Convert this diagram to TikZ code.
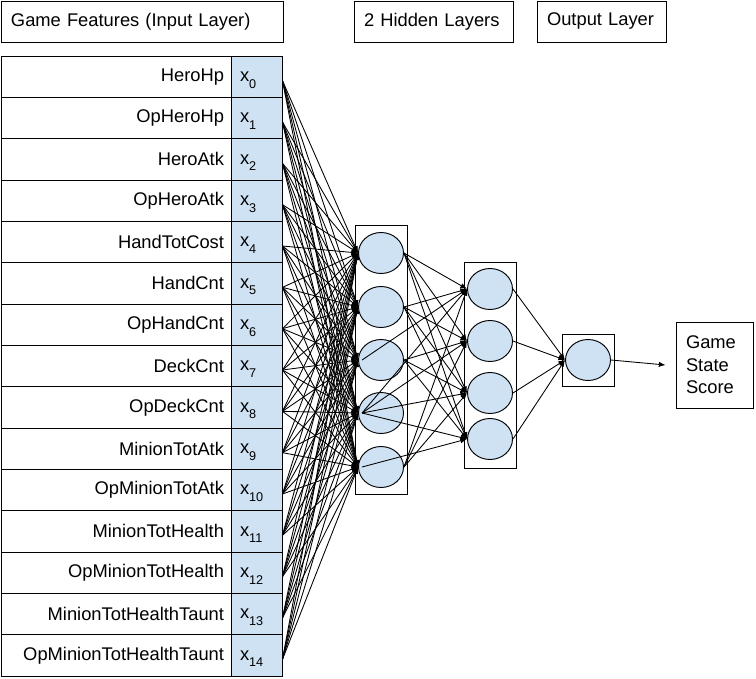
\documentclass[tikz,border=0pt]{standalone}
\usepackage{fontspec}
\setmainfont{Liberation Sans}
\usepackage{tikz}
\usetikzlibrary{shapes.geometric, arrows.meta}
\definecolor{celda}{RGB}{207, 226, 243}
\newcommand{\xsub}[1]{x\smash{\raisebox{-5pt}{\fontsize{9.5pt}{9.5pt}\selectfont #1}}}
\tikzset{
    hdr/.style={draw, rectangle, line width=0.7pt, minimum height=30.75pt, inner xsep=7.5pt, align=left},
    feat/.style={draw, rectangle, line width=0.7pt, minimum height=31pt, inner xsep=5.25pt, text width=162pt, align=right},
    xin/.style={draw, rectangle, line width=0.7pt, fill=celda, minimum height=31pt, inner xsep=6.75pt, text width=24.75pt, align=left},
    neur/.style={draw, ellipse, line width=0.7pt, fill=celda, minimum width=33.75pt, minimum height=30.75pt, inner sep=0pt},
    lay/.style={draw, rectangle, line width=0.7pt, minimum width=39pt, inner sep=0pt},
    conn/.style={-{Latex[length=5pt, width=4pt]}, line width=0.65pt},
}

\begin{document}
\begin{tikzpicture}[x=0.75pt, y=-0.75pt,
        every node/.style={font=\fontsize{13.75pt}{16.9pt}\selectfont}]
    \useasboundingbox (0,0) rectangle (756,678);

    % headers
    \node[hdr, text width=196.5pt] (hIn) at (142, 21.5) {Game Features (Input Layer)};
    \node[hdr, text width=104.25pt] (hHid) at (433.5, 21.5) {2 Hidden Layers};
    \node[hdr, text width=81.75pt] (hOut) at (601.5, 21.5) {Output Layer};

    % input table
    \foreach \nm [count=\i from 0] in {HeroHp, OpHeroHp, HeroAtk, OpHeroAtk, HandTotCost, HandCnt, OpHandCnt, DeckCnt, OpDeckCnt, MinionTotAtk, OpMinionTotAtk, MinionTotHealth, OpMinionTotHealth, MinionTotHealthTaunt, OpMinionTotHealthTaunt} {
        \node[feat] (f\i) at (116, {76.67+41.333*\i}) {\nm};
        \node[xin] (x\i) at (256.5, {76.67+41.333*\i}) {\xsub{\i}};
    }

    % layer boxes
    \node[lay, minimum height=201.75pt] (L1) at (381, 359.5) {};
    \node[lay, minimum height=154.5pt] (L2) at (490, 365) {};
    \node[lay, minimum height=39pt] (L3) at (588, 360) {};

    % neurons
    \foreach \yy [count=\j] in {253, 307, 360, 413, 467}
        \node[neur] (h\j) at (381, \yy) {};
    \foreach \yy [count=\k] in {289, 341, 393, 439}
        \node[neur] (g\k) at (490, \yy) {};
    \node[neur] (o) at (588, 360) {};

    \node[draw, rectangle, line width=0.7pt, minimum height=64.5pt, inner xsep=7.5pt, text width=42.75pt, align=left] (score) at (714.5, 365) {Game\\State\\Score};

    % input -> hidden 1
    \foreach \i in {0,...,14}
        \foreach \j in {1,...,5}
            \draw[conn] ([yshift=-3pt]x\i.east) -- (h\j.west);

    % hidden 1 -> hidden 2
    \foreach \k in {1,...,4} {
        \draw[conn] (h1.east) -- (g\k.west);
        \draw[conn] (h2.east) -- (g\k.west);
        \draw[conn] ([xshift=3pt]h4.west) -- (g\k.west);
    }
    \draw[conn] ([xshift=3pt]h3.west) -- (g1.west);
    \foreach \k in {2,3,4}
        \draw[conn] (h3.east) -- (g\k.west);
    \foreach \k in {1,2,3}
        \draw[conn] (h5.east) -- (g\k.west);
    \draw[conn] ([xshift=3pt]h5.west) -- (g4.west);

    % hidden 2 -> output
    \foreach \k in {1,...,4}
        \draw[conn] (g\k.east) -- (o.west);
    \draw[conn] (o.east) -- ([xshift=-7.5pt]score.west);
\end{tikzpicture}
\end{document}
